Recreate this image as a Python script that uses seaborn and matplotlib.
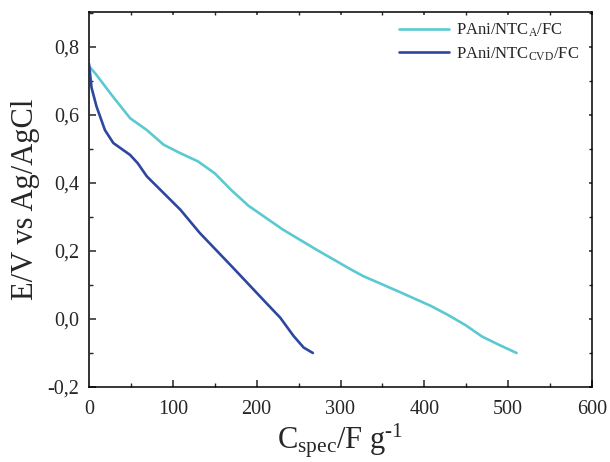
import matplotlib
matplotlib.use("Agg")
import matplotlib.pyplot as plt
import seaborn as sns
import pandas as pd
from matplotlib.ticker import MultipleLocator, FuncFormatter

cyan_x = [1, 8, 28, 49, 69, 89, 109, 130, 150, 170, 190, 231, 271, 312, 327, 368, 408, 428, 449, 469, 489, 510]
cyan_y = [0.74, 0.72, 0.655, 0.59, 0.555, 0.512, 0.487, 0.463, 0.428, 0.378, 0.333, 0.263, 0.204, 0.146, 0.126, 0.082, 0.038, 0.012, -0.018, -0.052, -0.076, -0.1]
blue_x = [0, 3, 9, 19, 29, 49, 58, 69, 89, 109, 132, 172, 211, 228, 244, 256, 267]
blue_y = [0.75, 0.68, 0.624, 0.555, 0.517, 0.482, 0.458, 0.419, 0.37, 0.321, 0.253, 0.15, 0.048, 0.004, -0.05, -0.084, -0.1]

label_a = r"PAni/NTC$_{\mathregular{A}}$/FC"
label_b = r"PAni/NTC$_{\mathregular{CVD}}$/FC"

sns.set_style("ticks")
plt.rcParams["font.family"] = ["Liberation Serif", "DejaVu Serif"]
plt.rcParams["mathtext.fontset"] = "custom"
plt.rcParams["mathtext.rm"] = "Liberation Serif"
plt.rcParams["mathtext.it"] = "Liberation Serif"

df_a = pd.DataFrame({"x": cyan_x, "y": cyan_y})
df_b = pd.DataFrame({"x": blue_x, "y": blue_y})

fig = plt.figure(figsize=(6.10, 4.62), dpi=100)
ax = fig.add_axes([89/610, 1-387/462, (592-89)/610, (387-12)/462])

sns.lineplot(data=df_a, x="x", y="y", ax=ax, color="#5bc9d1", lw=1.9, label=label_a, sort=False)
sns.lineplot(data=df_b, x="x", y="y", ax=ax, color="#2e479e", lw=1.9, label=label_b, sort=False)

ax.set_xlim(0, 600)
ax.set_ylim(-0.2, 0.902)
ax.xaxis.set_major_locator(MultipleLocator(100))
ax.xaxis.set_minor_locator(MultipleLocator(50))
ax.yaxis.set_major_locator(MultipleLocator(0.2))
ax.yaxis.set_minor_locator(MultipleLocator(0.1))
ax.yaxis.set_major_formatter(FuncFormatter(lambda v, p: ("%.1f" % v).replace(".", ",").replace("\u2212", "-")))
ax.xaxis.set_major_formatter(FuncFormatter(lambda v, p: "%d" % v))

ax.tick_params(which="major", direction="in", length=5, width=1.1, labelsize=14.5)
ax.tick_params(which="minor", direction="in", length=3, width=1.0)
ax.tick_params(axis="x", which="major", pad=9)
ax.tick_params(axis="y", which="major", pad=7)
ax.tick_params(which="both", top=True, right=True, labeltop=False, labelright=False)
for t in ax.xaxis.get_major_ticks() + ax.xaxis.get_minor_ticks():
    t.tick2line.set_markersize(2)
    t.tick2line.set_color("#999999")
for t in ax.yaxis.get_major_ticks() + ax.yaxis.get_minor_ticks():
    t.tick2line.set_markersize(2)
    t.tick2line.set_color("#999999")
for s in ax.spines.values():
    s.set_linewidth(1.1)
    s.set_color("black")
ax.spines["left"].set_color("#333333")
ax.spines["left"].set_linewidth(1.4)

ax.set_xlabel("C$_{\\mathregular{spec}}$/F g$^{\\mathregular{\u2010}\\mathregular{1}}$", fontsize=22, labelpad=2)
ax.set_ylabel("E/V vs Ag/AgCl", fontsize=22, labelpad=5)

leg = ax.legend(loc="upper right", frameon=False, fontsize=12, handlelength=3.0,
                handletextpad=0.45, borderaxespad=0.2, labelspacing=0.35,
                bbox_to_anchor=(0.995, 1.0))

fig.savefig("out.png", dpi=100)
